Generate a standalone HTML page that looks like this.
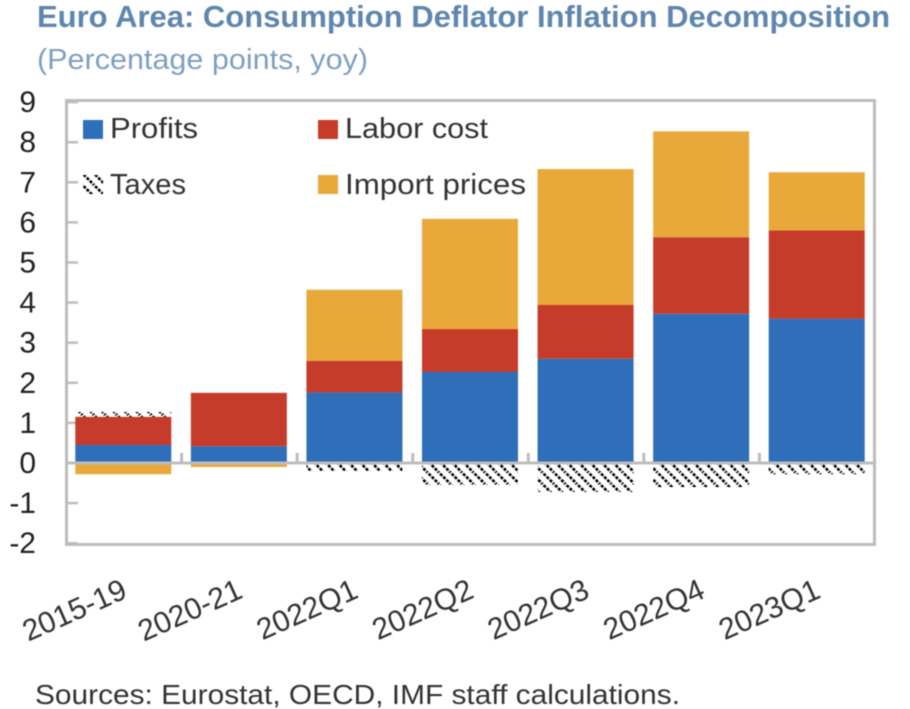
<!DOCTYPE html>
<html>
<head>
<meta charset="utf-8">
<style>
html,body{margin:0;padding:0;background:#fff;width:910px;height:709px;overflow:hidden}
svg{display:block;filter:blur(0.4px)}
text{font-family:"Liberation Sans","DejaVu Sans",sans-serif}
</style>
</head>
<body>
<svg id="chart" width="910" height="709" viewBox="0 0 910 709" xmlns="http://www.w3.org/2000/svg">
<defs>
<pattern id="hatch" width="11.5" height="11.5" patternUnits="userSpaceOnUse" patternTransform="translate(2 1)">
<path d="M-2 -2L14 14M-2 9.5L3 14.5M9 -2L14 3" stroke="#000" stroke-width="2.6" stroke-dasharray="3 1.4" fill="none"/>
</pattern>
</defs>
<text x="37" y="27" font-size="31" font-weight="700" fill="#5e86ae" textLength="853" lengthAdjust="spacingAndGlyphs">Euro Area: Consumption Deflator Inflation Decomposition</text>
<text x="37" y="69" font-size="29" fill="#7f9fc2" textLength="331" lengthAdjust="spacingAndGlyphs">(Percentage points, yoy)</text>
<rect x="66.5" y="100.5" width="808" height="444" fill="#fff" stroke="#bdbdbd" stroke-width="3"/>
<g id="ygrid"></g>
<g id="bars"></g>
<g id="xaxis"></g>
<g>
<g>
<rect x="83" y="120" width="20" height="19" fill="#2f6fba"/>
<text x="110" y="138" font-size="29" fill="#333" textLength="88" lengthAdjust="spacingAndGlyphs">Profits</text>
</g>
<g>
<rect x="318" y="120" width="20" height="19" fill="#c63c2a"/>
<text x="345" y="138" font-size="29" fill="#333" textLength="143" lengthAdjust="spacingAndGlyphs">Labor cost</text>
</g>
<g>
<rect x="83" y="175" width="20" height="19" fill="url(#hatch)"/>
<text x="110" y="194" font-size="29" fill="#333" textLength="76" lengthAdjust="spacingAndGlyphs">Taxes</text>
</g>
<g>
<rect x="318" y="175" width="20" height="19" fill="#e8a93a"/>
<text x="345" y="194" font-size="29" fill="#333" textLength="181" lengthAdjust="spacingAndGlyphs">Import prices</text>
</g>
</g>
<text x="35" y="704" font-size="28" fill="#333" textLength="645" lengthAdjust="spacingAndGlyphs">Sources: Eurostat, OECD, IMF staff calculations.</text>
</svg>
<script>
const categories = ["2015-19","2020-21","2022Q1","2022Q2","2022Q3","2022Q4","2023Q1"];
const profits = [0.45,0.42,1.76,2.27,2.60,3.72,3.60];
const laborCost = [0.70,1.33,0.79,1.07,1.34,1.91,2.20];
const importPrices = [-0.28,-0.10,1.77,2.75,3.39,2.64,1.45];
const taxes = [0.12,0,-0.20,-0.55,-0.72,-0.60,-0.28];
const yTicks = [9,8,7,6,5,4,3,2,1,0,-1,-2];

const NS = "http://www.w3.org/2000/svg";
const plotLeft = 66, plotRight = 875, y0 = 463, unit = 40.1;
const step = (plotRight - plotLeft) / categories.length;
const barWidth = 96;
const yScale = v => y0 - v * unit;
const xBand = i => plotLeft + step * i;
const xCenter = i => xBand(i) + step / 2;

function mk(parent, tag, attrs) {
  const el = document.createElementNS(NS, tag);
  for (const k in attrs) el.setAttribute(k, attrs[k]);
  parent.appendChild(el);
  return el;
}

const ygrid = document.getElementById("ygrid");
yTicks.forEach(t => {
  const y = yScale(t);
  const tick = mk(ygrid, "line", {x1: plotLeft, x2: plotLeft + 12, y1: y, y2: y, stroke: "#bdbdbd", "stroke-width": 2.5});
  
  
  const lab = mk(ygrid, "text", {x: 36, y: y + 10, "font-size": 30, fill: "#222", "text-anchor": "end"});
  lab.textContent = String(t);
  
  
});

const barsG = document.getElementById("bars");
const seriesDefs = [
  {values: profits, fill: "#2f6fba", key: "profits"},
  {values: laborCost, fill: "#c63c2a", key: "labor-cost"},
  {values: importPrices, fill: "#e8a93a", key: "import-prices"},
  {values: taxes, fill: "url(#hatch)", key: "taxes"}
];
categories.forEach((c, i) => {
  let pos = 0, neg = 0;
  seriesDefs.forEach(s => {
    const v = s.values[i];
    if (!v) return;
    let a, b;
    if (v > 0) { a = pos; b = pos + v; pos = b; }
    else { a = neg; b = neg + v; neg = b; }
    const top = yScale(Math.max(a, b));
    const h = Math.abs(yScale(a) - yScale(b));
    const r = mk(barsG, "rect", {x: xCenter(i) - barWidth / 2 - 0.5, y: top, width: barWidth, height: h, fill: s.fill});
    
    
  });
});

const xaxis = document.getElementById("xaxis");
const zero = mk(xaxis, "line", {x1: plotLeft, x2: plotRight, y1: y0, y2: y0, stroke: "#bdbdbd", "stroke-width": 3});


categories.forEach((c, i) => {
  if (i > 0) {
    const t = mk(xaxis, "line", {x1: xBand(i), x2: xBand(i), y1: y0, y2: y0 - 10, stroke: "#bdbdbd", "stroke-width": 3});
    
    
  }
  const cx = xCenter(i) + 5, cy = 597;
  const lab = mk(xaxis, "text", {x: cx, y: cy, "font-size": 30, fill: "#333", "text-anchor": "end", transform: "rotate(-24 " + cx + " " + cy + ")"});
  lab.textContent = c;
  
  
});
</script>
</body>
</html>
